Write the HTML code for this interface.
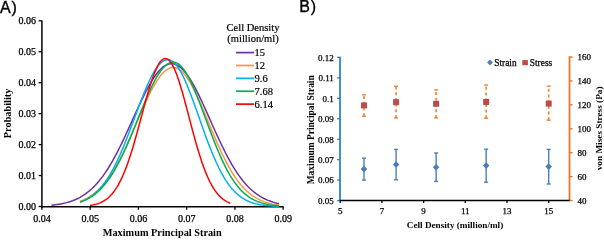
<!DOCTYPE html>
<html><head><meta charset="utf-8"><style>
html,body{margin:0;padding:0;background:#fff;}
body{width:604px;height:238px;overflow:hidden;}
svg{display:block;will-change:transform;}
text{font-family:"Liberation Serif",serif;fill:#000;}
.tA{font-size:10px;fill:#000;stroke:#000;stroke-width:0.25px;}
.lA{font-size:10.5px;fill:#000;stroke:#000;stroke-width:0.2px;}
.ttA{font-size:10.3px;font-weight:bold;}
.tB{font-size:9px;fill:#000;stroke:#000;stroke-width:0.25px;}
.ttB{font-size:9.45px;font-weight:bold;}
.lab{font-family:"Liberation Sans",sans-serif;font-size:16px;letter-spacing:0.8px;stroke:#000;stroke-width:0.35px;}
</style></head><body>
<svg width="604" height="238" viewBox="0 0 604 238">
<rect width="604" height="238" fill="#fff"/>
<text x="0" y="12.6" class="lab">A)</text>
<text x="299.3" y="11.8" class="lab">B)</text>
<line x1="41.9" y1="20.4" x2="41.9" y2="207.5" stroke="#000" stroke-width="1.5"/>
<line x1="41.2" y1="206.8" x2="283.6" y2="206.8" stroke="#000" stroke-width="1.5"/>
<line x1="38.6" y1="20.80" x2="41.9" y2="20.80" stroke="#000" stroke-width="1.3"/>
<text x="36" y="24.30" class="tA" text-anchor="end">0.06</text>
<line x1="38.6" y1="51.75" x2="41.9" y2="51.75" stroke="#000" stroke-width="1.3"/>
<text x="36" y="55.25" class="tA" text-anchor="end">0.05</text>
<line x1="38.6" y1="82.70" x2="41.9" y2="82.70" stroke="#000" stroke-width="1.3"/>
<text x="36" y="86.20" class="tA" text-anchor="end">0.04</text>
<line x1="38.6" y1="113.65" x2="41.9" y2="113.65" stroke="#000" stroke-width="1.3"/>
<text x="36" y="117.15" class="tA" text-anchor="end">0.03</text>
<line x1="38.6" y1="144.60" x2="41.9" y2="144.60" stroke="#000" stroke-width="1.3"/>
<text x="36" y="148.10" class="tA" text-anchor="end">0.02</text>
<line x1="38.6" y1="175.55" x2="41.9" y2="175.55" stroke="#000" stroke-width="1.3"/>
<text x="36" y="179.05" class="tA" text-anchor="end">0.01</text>
<line x1="38.6" y1="206.50" x2="41.9" y2="206.50" stroke="#000" stroke-width="1.3"/>
<text x="36" y="210.00" class="tA" text-anchor="end">0.00</text>
<line x1="41.90" y1="206.8" x2="41.90" y2="209.8" stroke="#000" stroke-width="1.3"/>
<text x="41.90" y="222" class="tA" text-anchor="middle">0.04</text>
<line x1="90.15" y1="206.8" x2="90.15" y2="209.8" stroke="#000" stroke-width="1.3"/>
<text x="90.15" y="222" class="tA" text-anchor="middle">0.05</text>
<line x1="138.40" y1="206.8" x2="138.40" y2="209.8" stroke="#000" stroke-width="1.3"/>
<text x="138.40" y="222" class="tA" text-anchor="middle">0.06</text>
<line x1="186.65" y1="206.8" x2="186.65" y2="209.8" stroke="#000" stroke-width="1.3"/>
<text x="186.65" y="222" class="tA" text-anchor="middle">0.07</text>
<line x1="234.90" y1="206.8" x2="234.90" y2="209.8" stroke="#000" stroke-width="1.3"/>
<text x="234.90" y="222" class="tA" text-anchor="middle">0.08</text>
<line x1="283.15" y1="206.8" x2="283.15" y2="209.8" stroke="#000" stroke-width="1.3"/>
<text x="283.15" y="222" class="tA" text-anchor="middle">0.09</text>
<text x="162.2" y="235.6" class="ttA" text-anchor="middle">Maximum Principal Strain</text>
<text transform="translate(10.8,113.4) rotate(-90)" class="ttA" text-anchor="middle">Probability</text>
<path d="M51.40,205.24 L53.31,205.04 L55.23,204.80 L57.14,204.54 L59.05,204.24 L60.96,203.90 L62.88,203.52 L64.79,203.09 L66.70,202.61 L68.61,202.06 L70.53,201.46 L72.44,200.79 L74.35,200.04 L76.26,199.21 L78.18,198.30 L80.09,197.29 L82.00,196.18 L83.91,194.97 L85.83,193.65 L87.74,192.21 L89.65,190.65 L91.56,188.96 L93.48,187.13 L95.39,185.17 L97.30,183.06 L99.22,180.81 L101.13,178.40 L103.04,175.85 L104.95,173.14 L106.87,170.28 L108.78,167.27 L110.69,164.11 L112.60,160.81 L114.52,157.36 L116.43,153.78 L118.34,150.08 L120.25,146.26 L122.17,142.34 L124.08,138.32 L125.99,134.23 L127.90,130.07 L129.82,125.87 L131.73,121.64 L133.64,117.40 L135.55,113.18 L137.47,108.98 L139.38,104.85 L141.29,100.79 L143.21,96.83 L145.12,92.99 L147.03,89.31 L148.94,85.79 L150.86,82.46 L152.77,79.35 L154.68,76.47 L156.59,73.84 L158.51,71.48 L160.42,69.41 L162.33,67.64 L164.24,66.19 L166.16,65.06 L168.07,64.26 L169.98,63.79 L171.89,63.67 L173.81,63.90 L175.72,64.48 L177.63,65.40 L179.54,66.66 L181.46,68.26 L183.37,70.17 L185.28,72.39 L187.19,74.89 L189.11,77.67 L191.02,80.70 L192.93,83.96 L194.85,87.43 L196.76,91.09 L198.67,94.91 L200.58,98.87 L202.50,102.95 L204.41,107.11 L206.32,111.35 L208.23,115.63 L210.15,119.93 L212.06,124.23 L213.97,128.50 L215.88,132.74 L217.80,136.92 L219.71,141.03 L221.62,145.04 L223.53,148.95 L225.45,152.75 L227.36,156.42 L229.27,159.95 L231.18,163.34 L233.10,166.58 L235.01,169.67 L236.92,172.60 L238.84,175.38 L240.75,178.00 L242.66,180.47 L244.57,182.78 L246.49,184.93 L248.40,186.94 L250.31,188.81 L252.22,190.54 L254.14,192.13 L256.05,193.60 L257.96,194.94 L259.87,196.18 L261.79,197.30 L263.70,198.32 L265.61,199.24 L267.52,200.08 L269.44,200.83 L271.35,201.51 L273.26,202.12 L275.17,202.66 L277.09,203.15 L279.00,203.58" stroke="#7030a0" stroke-width="1.5" fill="none"/>
<path d="M80.00,201.30 L81.67,200.66 L83.34,199.95 L85.02,199.17 L86.69,198.31 L88.36,197.38 L90.03,196.35 L91.71,195.24 L93.38,194.03 L95.05,192.72 L96.72,191.31 L98.39,189.78 L100.07,188.14 L101.74,186.39 L103.41,184.51 L105.08,182.50 L106.76,180.37 L108.43,178.11 L110.10,175.72 L111.77,173.20 L113.45,170.55 L115.12,167.77 L116.79,164.86 L118.46,161.83 L120.13,158.67 L121.81,155.41 L123.48,152.03 L125.15,148.55 L126.82,144.99 L128.50,141.34 L130.17,137.62 L131.84,133.84 L133.51,130.01 L135.18,126.16 L136.86,122.29 L138.53,118.41 L140.20,114.56 L141.87,110.73 L143.55,106.96 L145.22,103.26 L146.89,99.64 L148.56,96.14 L150.24,92.76 L151.91,89.52 L153.58,86.44 L155.25,83.54 L156.92,80.84 L158.60,78.35 L160.27,76.08 L161.94,74.06 L163.61,72.29 L165.29,70.78 L166.96,69.54 L168.63,68.58 L170.30,67.91 L171.97,67.53 L173.65,67.45 L175.32,67.67 L176.99,68.21 L178.66,69.06 L180.34,70.21 L182.01,71.66 L183.68,73.40 L185.35,75.42 L187.03,77.70 L188.70,80.22 L190.37,82.98 L192.04,85.96 L193.71,89.12 L195.39,92.47 L197.06,95.97 L198.73,99.61 L200.40,103.37 L202.08,107.21 L203.75,111.14 L205.42,115.11 L207.09,119.12 L208.76,123.14 L210.44,127.16 L212.11,131.16 L213.78,135.12 L215.45,139.02 L217.13,142.86 L218.80,146.61 L220.47,150.27 L222.14,153.83 L223.82,157.27 L225.49,160.60 L227.16,163.79 L228.83,166.86 L230.50,169.78 L232.18,172.57 L233.85,175.22 L235.52,177.73 L237.19,180.10 L238.87,182.32 L240.54,184.41 L242.21,186.37 L243.88,188.19 L245.55,189.89 L247.23,191.46 L248.90,192.92 L250.57,194.26 L252.24,195.49 L253.92,196.63 L255.59,197.66 L257.26,198.61 L258.93,199.47 L260.61,200.25 L262.28,200.96 L263.95,201.59 L265.62,202.17 L267.29,202.68 L268.97,203.15 L270.64,203.56 L272.31,203.93 L273.98,204.25 L275.66,204.54 L277.33,204.80 L279.00,205.03" stroke="#f79646" stroke-width="1.5" fill="none"/>
<path d="M80.00,202.14 L81.67,201.52 L83.34,200.83 L85.02,200.06 L86.69,199.20 L88.36,198.25 L90.03,197.20 L91.71,196.04 L93.38,194.77 L95.05,193.38 L96.72,191.85 L98.39,190.20 L100.07,188.40 L101.74,186.45 L103.41,184.35 L105.08,182.10 L106.76,179.68 L108.43,177.10 L110.10,174.36 L111.77,171.44 L113.45,168.36 L115.12,165.12 L116.79,161.71 L118.46,158.15 L120.13,154.44 L121.81,150.58 L123.48,146.59 L125.15,142.48 L126.82,138.26 L128.50,133.95 L130.17,129.57 L131.84,125.13 L133.51,120.65 L135.18,116.15 L136.86,111.66 L138.53,107.21 L140.20,102.80 L141.87,98.48 L143.55,94.27 L145.22,90.19 L146.89,86.26 L148.56,82.52 L150.24,78.99 L151.91,75.70 L153.58,72.66 L155.25,69.90 L156.92,67.44 L158.60,65.29 L160.27,63.48 L161.94,62.01 L163.61,60.90 L165.29,60.16 L166.96,59.78 L168.63,59.79 L170.30,60.21 L171.97,61.04 L173.65,62.29 L175.32,63.93 L176.99,65.96 L178.66,68.35 L180.34,71.09 L182.01,74.16 L183.68,77.53 L185.35,81.17 L187.03,85.05 L188.70,89.16 L190.37,93.44 L192.04,97.89 L193.71,102.45 L195.39,107.11 L197.06,111.83 L198.73,116.59 L200.40,121.35 L202.08,126.09 L203.75,130.78 L205.42,135.41 L207.09,139.94 L208.76,144.36 L210.44,148.65 L212.11,152.80 L213.78,156.80 L215.45,160.63 L217.13,164.28 L218.80,167.76 L220.47,171.05 L222.14,174.15 L223.82,177.07 L225.49,179.80 L227.16,182.35 L228.83,184.71 L230.50,186.90 L232.18,188.92 L233.85,190.78 L235.52,192.48 L237.19,194.03 L238.87,195.45 L240.54,196.73 L242.21,197.88 L243.88,198.93 L245.55,199.86 L247.23,200.70 L248.90,201.44 L250.57,202.10 L252.24,202.69 L253.92,203.21 L255.59,203.66 L257.26,204.06 L258.93,204.41 L260.61,204.72 L262.28,204.98 L263.95,205.21 L265.62,205.41 L267.29,205.58 L268.97,205.72 L270.64,205.85 L272.31,205.95 L273.98,206.04 L275.66,206.12 L277.33,206.18 L279.00,206.24" stroke="#00b0f0" stroke-width="1.5" fill="none"/>
<path d="M80.00,202.07 L81.67,201.49 L83.34,200.84 L85.02,200.12 L86.69,199.33 L88.36,198.46 L90.03,197.50 L91.71,196.45 L93.38,195.30 L95.05,194.05 L96.72,192.68 L98.39,191.21 L100.07,189.61 L101.74,187.89 L103.41,186.04 L105.08,184.06 L106.76,181.94 L108.43,179.68 L110.10,177.28 L111.77,174.74 L113.45,172.05 L115.12,169.21 L116.79,166.24 L118.46,163.12 L120.13,159.87 L121.81,156.48 L123.48,152.97 L125.15,149.34 L126.82,145.60 L128.50,141.77 L130.17,137.84 L131.84,133.84 L133.51,129.78 L135.18,125.68 L136.86,121.55 L138.53,117.40 L140.20,113.26 L141.87,109.15 L143.55,105.08 L145.22,101.09 L146.89,97.17 L148.56,93.37 L150.24,89.70 L151.91,86.18 L153.58,82.83 L155.25,79.67 L156.92,76.73 L158.60,74.01 L160.27,71.54 L161.94,69.33 L163.61,67.40 L165.29,65.75 L166.96,64.41 L168.63,63.37 L170.30,62.65 L171.97,62.25 L173.65,62.17 L175.32,62.46 L176.99,63.13 L178.66,64.18 L180.34,65.59 L182.01,67.36 L183.68,69.46 L185.35,71.90 L187.03,74.64 L188.70,77.66 L190.37,80.95 L192.04,84.48 L193.71,88.23 L195.39,92.16 L197.06,96.25 L198.73,100.48 L200.40,104.82 L202.08,109.24 L203.75,113.71 L205.42,118.21 L207.09,122.71 L208.76,127.20 L210.44,131.64 L212.11,136.02 L213.78,140.32 L215.45,144.53 L217.13,148.62 L218.80,152.58 L220.47,156.40 L222.14,160.08 L223.82,163.60 L225.49,166.96 L227.16,170.15 L228.83,173.17 L230.50,176.03 L232.18,178.71 L233.85,181.22 L235.52,183.57 L237.19,185.75 L238.87,187.78 L240.54,189.65 L242.21,191.37 L243.88,192.96 L245.55,194.41 L247.23,195.73 L248.90,196.94 L250.57,198.03 L252.24,199.02 L253.92,199.91 L255.59,200.71 L257.26,201.42 L258.93,202.06 L260.61,202.63 L262.28,203.13 L263.95,203.58 L265.62,203.98 L267.29,204.32 L268.97,204.63 L270.64,204.89 L272.31,205.12 L273.98,205.33 L275.66,205.50 L277.33,205.65 L279.00,205.78" stroke="#00b050" stroke-width="1.5" fill="none"/>
<path d="M90.00,205.42 L91.18,205.24 L92.36,205.04 L93.54,204.81 L94.72,204.54 L95.89,204.24 L97.07,203.90 L98.25,203.51 L99.43,203.08 L100.61,202.59 L101.79,202.04 L102.97,201.43 L104.15,200.75 L105.33,199.99 L106.51,199.15 L107.68,198.22 L108.86,197.20 L110.04,196.08 L111.22,194.84 L112.40,193.50 L113.58,192.03 L114.76,190.43 L115.94,188.71 L117.12,186.84 L118.30,184.83 L119.47,182.67 L120.65,180.36 L121.83,177.89 L123.01,175.27 L124.19,172.49 L125.37,169.55 L126.55,166.45 L127.73,163.20 L128.91,159.79 L130.09,156.24 L131.26,152.55 L132.44,148.73 L133.62,144.78 L134.80,140.72 L135.98,136.57 L137.16,132.33 L138.34,128.02 L139.52,123.66 L140.70,119.27 L141.88,114.87 L143.05,110.47 L144.23,106.11 L145.41,101.80 L146.59,97.57 L147.77,93.44 L148.95,89.44 L150.13,85.58 L151.31,81.90 L152.49,78.42 L153.67,75.15 L154.84,72.12 L156.02,69.36 L157.20,66.87 L158.38,64.68 L159.56,62.80 L160.74,61.25 L161.92,60.03 L163.10,59.16 L164.28,58.64 L165.46,58.47 L166.63,58.67 L167.81,59.24 L168.99,60.17 L170.17,61.46 L171.35,63.11 L172.53,65.09 L173.71,67.39 L174.89,70.00 L176.07,72.90 L177.25,76.06 L178.42,79.47 L179.60,83.10 L180.78,86.93 L181.96,90.93 L183.14,95.07 L184.32,99.34 L185.50,103.71 L186.68,108.14 L187.86,112.62 L189.04,117.12 L190.21,121.61 L191.39,126.09 L192.57,130.52 L193.75,134.88 L194.93,139.17 L196.11,143.36 L197.29,147.43 L198.47,151.38 L199.65,155.20 L200.83,158.87 L202.00,162.39 L203.18,165.75 L204.36,168.95 L205.54,171.99 L206.72,174.86 L207.90,177.56 L209.08,180.10 L210.26,182.48 L211.44,184.70 L212.62,186.76 L213.79,188.68 L214.97,190.44 L216.15,192.07 L217.33,193.57 L218.51,194.94 L219.69,196.19 L220.87,197.33 L222.05,198.36 L223.23,199.30 L224.41,200.14 L225.58,200.90 L226.76,201.58 L227.94,202.19 L229.12,202.73 L230.30,203.21" stroke="#ff0000" stroke-width="1.5" fill="none"/>
<text x="253" y="30.9" class="lA" text-anchor="middle">Cell Density</text>
<text x="253" y="41.8" class="lA" text-anchor="middle">(million/ml)</text>
<line x1="236" y1="52.60" x2="254" y2="52.60" stroke="#7030a0" stroke-width="1.7"/>
<text x="254.5" y="56.20" class="lA">15</text>
<line x1="236" y1="65.48" x2="254" y2="65.48" stroke="#f79646" stroke-width="1.7"/>
<text x="254.5" y="69.08" class="lA">12</text>
<line x1="236" y1="78.36" x2="254" y2="78.36" stroke="#00b0f0" stroke-width="1.7"/>
<text x="254.5" y="81.96" class="lA">9.6</text>
<line x1="236" y1="91.24" x2="254" y2="91.24" stroke="#00b050" stroke-width="1.7"/>
<text x="254.5" y="94.84" class="lA">7.68</text>
<line x1="236" y1="104.12" x2="254" y2="104.12" stroke="#ff0000" stroke-width="1.7"/>
<text x="254.5" y="107.72" class="lA">6.14</text>
<line x1="340.0" y1="56.7" x2="340.0" y2="201" stroke="#2479d0" stroke-width="1.7"/>
<line x1="569.5" y1="56.3" x2="569.5" y2="201" stroke="#e97628" stroke-width="1.8"/>
<line x1="339.6" y1="200.6" x2="570.2" y2="200.6" stroke="#000" stroke-width="1.5"/>
<line x1="337.2" y1="57.40" x2="340.0" y2="57.40" stroke="#2479d0" stroke-width="1.3"/>
<text x="333.8" y="60.70" class="tB" text-anchor="end">0.12</text>
<line x1="337.2" y1="77.85" x2="340.0" y2="77.85" stroke="#2479d0" stroke-width="1.3"/>
<text x="333.8" y="81.15" class="tB" text-anchor="end">0.11</text>
<line x1="337.2" y1="98.30" x2="340.0" y2="98.30" stroke="#2479d0" stroke-width="1.3"/>
<text x="333.8" y="101.60" class="tB" text-anchor="end">0.1</text>
<line x1="337.2" y1="118.75" x2="340.0" y2="118.75" stroke="#2479d0" stroke-width="1.3"/>
<text x="333.8" y="122.05" class="tB" text-anchor="end">0.09</text>
<line x1="337.2" y1="139.20" x2="340.0" y2="139.20" stroke="#2479d0" stroke-width="1.3"/>
<text x="333.8" y="142.50" class="tB" text-anchor="end">0.08</text>
<line x1="337.2" y1="159.65" x2="340.0" y2="159.65" stroke="#2479d0" stroke-width="1.3"/>
<text x="333.8" y="162.95" class="tB" text-anchor="end">0.07</text>
<line x1="337.2" y1="180.10" x2="340.0" y2="180.10" stroke="#2479d0" stroke-width="1.3"/>
<text x="333.8" y="183.40" class="tB" text-anchor="end">0.06</text>
<line x1="337.2" y1="200.55" x2="340.0" y2="200.55" stroke="#2479d0" stroke-width="1.3"/>
<text x="333.8" y="203.85" class="tB" text-anchor="end">0.05</text>
<line x1="569.5" y1="57.00" x2="572.7" y2="57.00" stroke="#e97628" stroke-width="1.3"/>
<text x="577.5" y="60.30" class="tB">160</text>
<line x1="569.5" y1="80.92" x2="572.7" y2="80.92" stroke="#e97628" stroke-width="1.3"/>
<text x="577.5" y="84.22" class="tB">140</text>
<line x1="569.5" y1="104.84" x2="572.7" y2="104.84" stroke="#e97628" stroke-width="1.3"/>
<text x="577.5" y="108.14" class="tB">120</text>
<line x1="569.5" y1="128.76" x2="572.7" y2="128.76" stroke="#e97628" stroke-width="1.3"/>
<text x="577.5" y="132.06" class="tB">100</text>
<line x1="569.5" y1="152.68" x2="572.7" y2="152.68" stroke="#e97628" stroke-width="1.3"/>
<text x="577.5" y="155.98" class="tB">80</text>
<line x1="569.5" y1="176.60" x2="572.7" y2="176.60" stroke="#e97628" stroke-width="1.3"/>
<text x="577.5" y="179.90" class="tB">60</text>
<line x1="569.5" y1="200.52" x2="572.7" y2="200.52" stroke="#e97628" stroke-width="1.3"/>
<text x="577.5" y="203.82" class="tB">40</text>
<line x1="340.20" y1="200.6" x2="340.20" y2="203" stroke="#000" stroke-width="1.3"/>
<text x="340.20" y="214.3" class="tB" text-anchor="middle">5</text>
<line x1="381.90" y1="200.6" x2="381.90" y2="203" stroke="#000" stroke-width="1.3"/>
<text x="381.90" y="214.3" class="tB" text-anchor="middle">7</text>
<line x1="423.60" y1="200.6" x2="423.60" y2="203" stroke="#000" stroke-width="1.3"/>
<text x="423.60" y="214.3" class="tB" text-anchor="middle">9</text>
<line x1="465.30" y1="200.6" x2="465.30" y2="203" stroke="#000" stroke-width="1.3"/>
<text x="465.30" y="214.3" class="tB" text-anchor="middle">11</text>
<line x1="507.00" y1="200.6" x2="507.00" y2="203" stroke="#000" stroke-width="1.3"/>
<text x="507.00" y="214.3" class="tB" text-anchor="middle">13</text>
<line x1="548.70" y1="200.6" x2="548.70" y2="203" stroke="#000" stroke-width="1.3"/>
<text x="548.70" y="214.3" class="tB" text-anchor="middle">15</text>
<text x="455" y="227.5" class="ttB" style="font-size:9.2px" text-anchor="middle">Cell Density (million/ml)</text>
<text transform="translate(314,129.8) rotate(-90)" class="ttB" text-anchor="middle">Maximum Principal Strain</text>
<text transform="translate(602.4,128.4) rotate(-90)" class="ttB" style="font-size:9.25px" text-anchor="middle">von Mises Stress (Pa)</text>
<line x1="363.97" y1="158.2" x2="363.97" y2="180.1" stroke="#4a7ebb" stroke-width="1.4"/>
<line x1="361.97" y1="158.2" x2="365.97" y2="158.2" stroke="#4a7ebb" stroke-width="1.4"/>
<line x1="361.97" y1="180.1" x2="365.97" y2="180.1" stroke="#4a7ebb" stroke-width="1.4"/>
<path d="M363.97,165.70 L367.27,169.00 L363.97,172.30 L360.67,169.00Z" fill="#4a7ebb"/>
<line x1="396.08" y1="149.4" x2="396.08" y2="179.8" stroke="#4a7ebb" stroke-width="1.4"/>
<line x1="394.08" y1="149.4" x2="398.08" y2="149.4" stroke="#4a7ebb" stroke-width="1.4"/>
<line x1="394.08" y1="179.8" x2="398.08" y2="179.8" stroke="#4a7ebb" stroke-width="1.4"/>
<path d="M396.08,161.20 L399.38,164.50 L396.08,167.80 L392.78,164.50Z" fill="#4a7ebb"/>
<line x1="436.11" y1="153" x2="436.11" y2="181.5" stroke="#4a7ebb" stroke-width="1.4"/>
<line x1="434.11" y1="153" x2="438.11" y2="153" stroke="#4a7ebb" stroke-width="1.4"/>
<line x1="434.11" y1="181.5" x2="438.11" y2="181.5" stroke="#4a7ebb" stroke-width="1.4"/>
<path d="M436.11,164.00 L439.41,167.30 L436.11,170.60 L432.81,167.30Z" fill="#4a7ebb"/>
<line x1="486.15" y1="149.2" x2="486.15" y2="182.2" stroke="#4a7ebb" stroke-width="1.4"/>
<line x1="484.15" y1="149.2" x2="488.15" y2="149.2" stroke="#4a7ebb" stroke-width="1.4"/>
<line x1="484.15" y1="182.2" x2="488.15" y2="182.2" stroke="#4a7ebb" stroke-width="1.4"/>
<path d="M486.15,162.30 L489.45,165.60 L486.15,168.90 L482.85,165.60Z" fill="#4a7ebb"/>
<line x1="548.70" y1="149.4" x2="548.70" y2="184" stroke="#4a7ebb" stroke-width="1.4"/>
<line x1="546.70" y1="149.4" x2="550.70" y2="149.4" stroke="#4a7ebb" stroke-width="1.4"/>
<line x1="546.70" y1="184" x2="550.70" y2="184" stroke="#4a7ebb" stroke-width="1.4"/>
<path d="M548.70,163.30 L552.00,166.60 L548.70,169.90 L545.40,166.60Z" fill="#4a7ebb"/>
<line x1="363.97" y1="116.2" x2="363.97" y2="94.8" stroke="#ef8135" stroke-width="1.6" stroke-dasharray="3,2.7"/>
<line x1="361.97" y1="94.8" x2="365.97" y2="94.8" stroke="#ef8135" stroke-width="1.4"/>
<line x1="361.97" y1="116.2" x2="365.97" y2="116.2" stroke="#ef8135" stroke-width="1.4"/>
<rect x="360.97" y="102.40" width="6" height="6" fill="#be4b48"/>
<line x1="396.08" y1="118.0" x2="396.08" y2="86.3" stroke="#ef8135" stroke-width="1.6" stroke-dasharray="3,2.7"/>
<line x1="394.08" y1="86.3" x2="398.08" y2="86.3" stroke="#ef8135" stroke-width="1.4"/>
<line x1="394.08" y1="118.0" x2="398.08" y2="118.0" stroke="#ef8135" stroke-width="1.4"/>
<rect x="393.08" y="99.20" width="6" height="6" fill="#be4b48"/>
<line x1="436.11" y1="117.9" x2="436.11" y2="89.9" stroke="#ef8135" stroke-width="1.6" stroke-dasharray="3,2.7"/>
<line x1="434.11" y1="89.9" x2="438.11" y2="89.9" stroke="#ef8135" stroke-width="1.4"/>
<line x1="434.11" y1="117.9" x2="438.11" y2="117.9" stroke="#ef8135" stroke-width="1.4"/>
<rect x="433.11" y="100.80" width="6" height="6" fill="#be4b48"/>
<line x1="486.15" y1="118.3" x2="486.15" y2="85.1" stroke="#ef8135" stroke-width="1.6" stroke-dasharray="3,2.7"/>
<line x1="484.15" y1="85.1" x2="488.15" y2="85.1" stroke="#ef8135" stroke-width="1.4"/>
<line x1="484.15" y1="118.3" x2="488.15" y2="118.3" stroke="#ef8135" stroke-width="1.4"/>
<rect x="483.15" y="99.00" width="6" height="6" fill="#be4b48"/>
<line x1="548.70" y1="120.2" x2="548.70" y2="86.2" stroke="#ef8135" stroke-width="1.6" stroke-dasharray="3,2.7"/>
<line x1="546.70" y1="86.2" x2="550.70" y2="86.2" stroke="#ef8135" stroke-width="1.4"/>
<line x1="546.70" y1="120.2" x2="550.70" y2="120.2" stroke="#ef8135" stroke-width="1.4"/>
<rect x="545.70" y="100.60" width="6" height="6" fill="#be4b48"/>
<path d="M490,59.6 L492.9,62.5 L490,65.4 L487.1,62.5Z" fill="#4a7ebb"/>
<text x="494.2" y="66.1" class="tB" style="font-size:9.4px">Strain</text>
<rect x="522.3" y="60.1" width="5.6" height="5.1" fill="#be4b48"/>
<text x="529.8" y="66.1" class="tB" style="font-size:9.4px">Stress</text>

</svg>
</body></html>
